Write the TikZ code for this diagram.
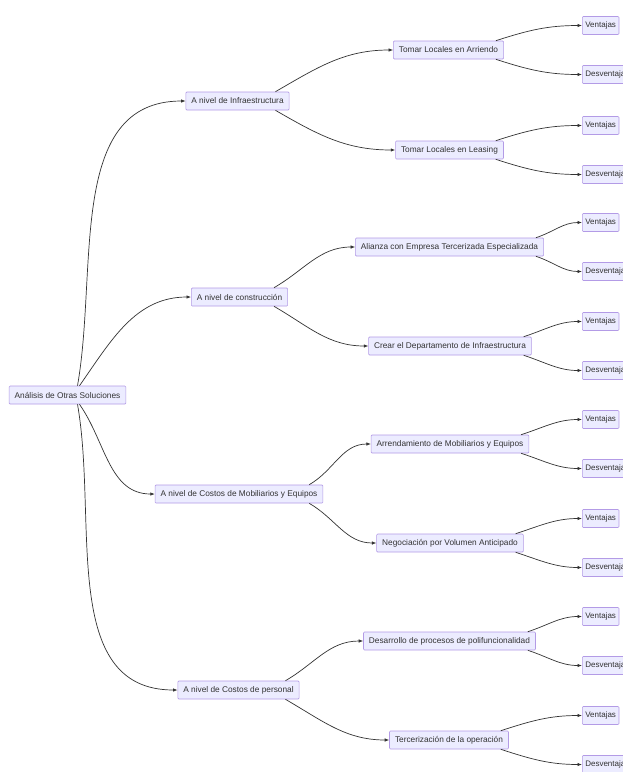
\documentclass[tikz,border=0pt]{standalone}
\usepackage{fontspec}
\setmainfont{Liberation Sans}
\usetikzlibrary{arrows.meta}
\definecolor{nodefill}{HTML}{ECECFF}
\definecolor{nodedraw}{HTML}{9370DB}
\definecolor{txt}{HTML}{333333}
\definecolor{edgecol}{HTML}{333333}
\tikzset{
  box/.style={draw=nodedraw!70!white, fill=nodefill, line width=0.6pt, rounded corners=1pt,
    font=\fontsize{8.3}{10}\selectfont, text=txt, inner xsep=5.5pt, inner ysep=0pt,
    minimum height=18pt},
  leaf/.style={box, anchor=west, inner xsep=3pt, font=\fontsize{8}{10}\selectfont},
  edge/.style={draw=edgecol, line width=0.7pt, -{Latex[length=4.5pt,width=3.5pt]}},
}
\begin{document}
\begin{tikzpicture}[x=1pt,y=-1pt]
\useasboundingbox (0,0) rectangle (623,772);
\fill[white] (0,0) rectangle (623,772);
% root
\node[box] (root) at (67.5,395) {Análisis de Otras Soluciones};
% level 1
\node[box] (a) at (237.5,101) {A nivel de Infraestructura};
\node[box] (b) at (239.5,297) {A nivel de construcción};
\node[box] (c) at (239,494) {A nivel de Costos de Mobiliarios y Equipos};
\node[box] (d) at (238.5,690) {A nivel de Costos de personal};
% level 2
\node[box] (a1) at (448.5,50) {Tomar Locales en Arriendo};
\node[box] (a2) at (449.5,150) {Tomar Locales en Leasing};
\node[box] (b1) at (449.5,247) {Alianza con Empresa Tercerizada Especializada};
\node[box] (b2) at (450,346) {Crear el Departamento de Infraestructura};
\node[box] (c1) at (450,444) {Arrendamiento de Mobiliarios y Equipos};
\node[box] (c2) at (450,543) {Negociación por Volumen Anticipado};
\node[box] (d1) at (449.5,641) {Desarrollo de procesos de polifuncionalidad};
\node[box] (d2) at (449,740) {Tercerización de la operación};
% leaves
\foreach \p/\y in {a1/50,a2/150,b1/247,b2/346,c1/444,c2/543,d1/641,d2/740}{
  \node[leaf] (\p v) at (582,\y-24.5) {Ventajas};
  \node[leaf] (\p d) at (582,\y+24.5) {Desventajas};
}
% root edges
\draw[edge] ([xshift=10pt]root.north) to[out=80,in=180] (a.west);
\draw[edge] ([xshift=12pt]root.north) to[out=55,in=180] (b.west);
\draw[edge] ([xshift=12pt]root.south) to[out=-55,in=180] (c.west);
\draw[edge] ([xshift=10pt]root.south) to[out=-80,in=180] (d.west);
% level 1 -> level 2
\foreach \p in {a,b,c,d}{
  \draw[edge] ([xshift=-14pt]\p.north east) to[out=30,in=180] (\p1.west);
  \draw[edge] ([xshift=-14pt]\p.south east) to[out=-30,in=180] (\p2.west);
}
% level 2 -> leaves
\foreach \p in {a1,a2,b1,b2,c1,c2,d1,d2}{
  \draw[edge] ([xshift=-8pt]\p.north east) to[out=18,in=180] (\p v.west);
  \draw[edge] ([xshift=-8pt]\p.south east) to[out=-18,in=180] (\p d.west);
}
\end{tikzpicture}
\end{document}
